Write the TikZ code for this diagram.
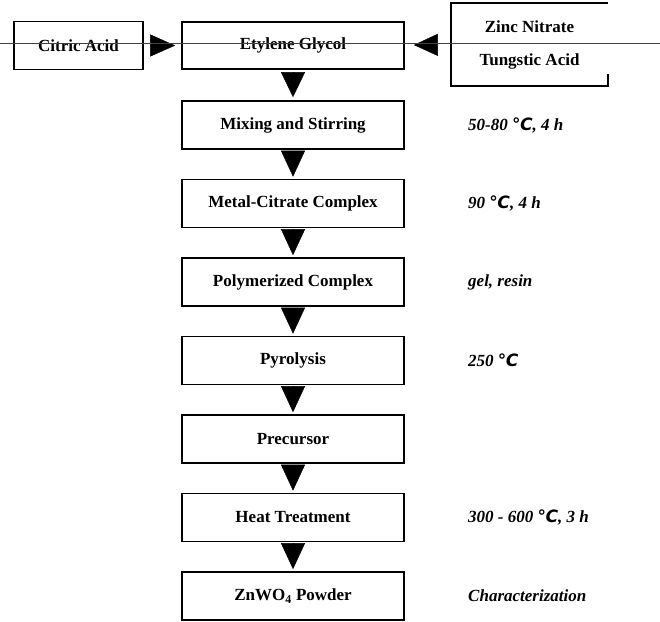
\documentclass[tikz,border=0pt]{standalone}
\usepackage{fontspec}
\setmainfont{Liberation Serif}
\newfontfamily\celsiusfont{DejaVu Sans}
\usetikzlibrary{arrows.meta}
\newcommand{\degC}{{\celsiusfont ℃}}
\tikzset{
  stepbox/.style={draw,line width=1.6pt,minimum width=222pt,minimum height=48pt,inner sep=0pt,font=\bfseries\fontsize{17}{20}\selectfont},
  cond/.style={anchor=west,inner sep=0pt,font=\bfseries\itshape\fontsize{17}{20}\selectfont},
  tri/.style={-{Triangle[length=26pt,width=24pt]},line width=0.4pt,shorten <=2pt,shorten >=2pt}
}

\begin{document}
\begin{tikzpicture}[x=1pt,y=-1pt]
  \useasboundingbox (0,0) rectangle (660,621);
  % starting materials
  \node[stepbox,minimum width=129pt] (citric) at (78.5,45.5) {Citric Acid};
  \node[stepbox,minimum height=47pt] (glycol) at (293,45.5) {Etylene Glycol};
  \node[stepbox,draw=none,minimum width=155pt,minimum height=81pt,align=center,font=\bfseries\fontsize{17}{33}\selectfont] (salts) at (529.5,44.5) {Zinc Nitrate\\Tungstic Acid};
  \draw[line width=1.6pt] (salts.north east) -- (salts.north west) -- (salts.south west) -- (salts.south east) -- ++(0,-12);
  \draw[tri,-{Triangle[length=25pt,width=22pt]},shorten <=10pt,shorten >=6pt] (citric) -- (glycol);
  \draw[tri,-{Triangle[length=24pt,width=22pt]},shorten <=13pt,shorten >=9pt] (salts) -- (glycol);
  % process chain
  \node[stepbox] (mix) at (293,125) {Mixing and Stirring};
  \node[stepbox] (complex) at (293,203.5) {Metal-Citrate Complex};
  \node[stepbox] (polymer) at (293,282) {Polymerized Complex};
  \node[stepbox] (pyro) at (293,360.5) {Pyrolysis};
  \node[stepbox] (prec) at (293,439) {Precursor};
  \node[stepbox] (heat) at (293,517.5) {Heat Treatment};
  \node[stepbox] (powder) at (293,596) {ZnWO\textsubscript{4} Powder};
  \draw[tri,-{Triangle[length=25pt,width=24pt]},shorten <=4pt,shorten >=3pt] (glycol) -- (mix);
  \foreach \a/\b in {mix/complex,complex/polymer,polymer/pyro,pyro/prec,prec/heat,heat/powder}
    \draw[tri] (\a) -- (\b);
  % conditions
  \node[cond] (mix-c) at (468,125) {50-80 \degC, 4 h};
  \node[cond] (complex-c) at (468,203.5) {90 \degC, 4 h};
  \node[cond] (polymer-c) at (468,282) {gel, resin};
  \node[cond] (pyro-c) at (468,360.5) {250 \degC};
  \node[cond] (heat-c) at (468,517.5) {300 - 600 \degC, 3 h};
  \node[cond] (powder-c) at (468,596) {Characterization};
  % scan line across the top
  \draw[line width=0.5pt,black!75] (0,43) -- (660,43);
\end{tikzpicture}
\end{document}
